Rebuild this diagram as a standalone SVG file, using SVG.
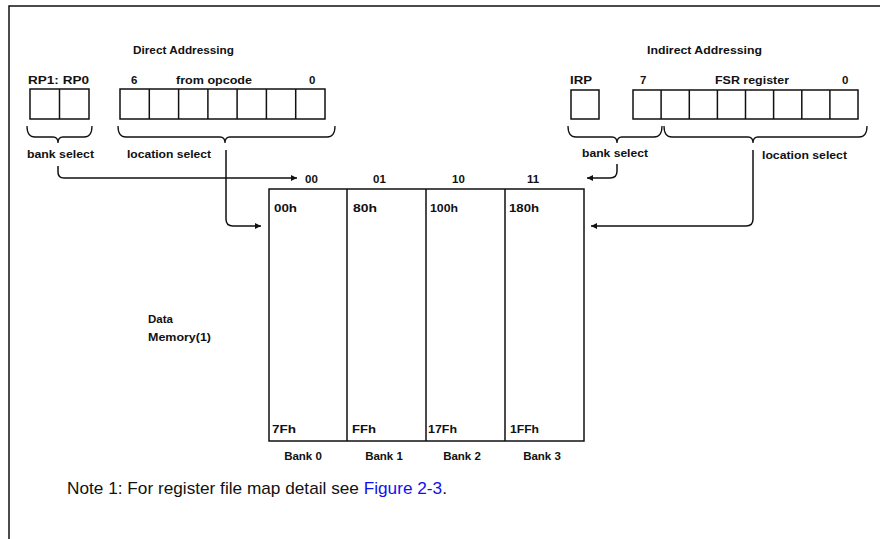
<svg xmlns="http://www.w3.org/2000/svg" width="880" height="539" viewBox="0 0 880 539">
<defs>
<marker id="arr" viewBox="0 0 10 10" refX="10" refY="5" markerWidth="8" markerHeight="6" markerUnits="userSpaceOnUse" orient="auto">
<path d="M0,0 L10,5 L0,10 z" fill="#111"/>
</marker>
</defs>
<style>
.t{font-family:"Liberation Sans",Arial,sans-serif;font-weight:bold;font-size:11.5px;fill:#111}
.n{font-family:"Liberation Sans",Arial,sans-serif;font-size:17px;fill:#111}
.box{fill:#fff;stroke:#111;stroke-width:1.5}
.ln{fill:none;stroke:#111;stroke-width:1.5}
.br{fill:none;stroke:#111;stroke-width:1.3}
.con{fill:none;stroke:#111;stroke-width:1.5;marker-end:url(#arr)}
</style>
<rect width="880" height="539" fill="#fff"/>
<path class="ln" d="M9,545 L9,6 L885,6" stroke-width="1.3"/>

<g id="direct">
<text class="t" x="133" y="54" textLength="101" lengthAdjust="spacingAndGlyphs">Direct Addressing</text>
<text class="t" x="28" y="84" textLength="61" lengthAdjust="spacingAndGlyphs">RP1: RP0</text>
<text class="t" x="131" y="84">6</text>
<text class="t" x="176" y="84" textLength="76" lengthAdjust="spacingAndGlyphs">from opcode</text>
<text class="t" x="309" y="84">0</text>
<rect class="box" x="30" y="89" width="59" height="30"/>
<line class="ln" x1="59.5" y1="89" x2="59.5" y2="119"/>
<rect class="box" x="120" y="89" width="205" height="30"/>
<path class="ln" d="M149.3,89V119M178.6,89V119M207.9,89V119M237.1,89V119M266.4,89V119M295.7,89V119"/>
<path class="br" d="M27,126 Q27,137 35,137 L53,137 Q58,137 58,143 Q58,137 63,137 L84,137 Q92,137 92,126"/>
<path class="br" d="M118,126 Q118,137 126,137 L220,137 Q225,137 225,143 Q225,137 230,137 L327,137 Q335,137 335,126"/>
<text class="t" x="27" y="158" textLength="67" lengthAdjust="spacingAndGlyphs">bank select</text>
<text class="t" x="127" y="158" textLength="84" lengthAdjust="spacingAndGlyphs">location select</text>
</g>

<g id="indirect">
<text class="t" x="647" y="54" textLength="115" lengthAdjust="spacingAndGlyphs">Indirect Addressing</text>
<text class="t" x="570" y="84" textLength="22" lengthAdjust="spacingAndGlyphs">IRP</text>
<text class="t" x="640" y="84">7</text>
<text class="t" x="715" y="84" textLength="74" lengthAdjust="spacingAndGlyphs">FSR register</text>
<text class="t" x="842" y="84">0</text>
<rect class="box" x="571" y="90" width="28" height="29"/>
<rect class="box" x="633" y="90" width="225" height="29"/>
<path class="ln" d="M661.1,90V119M689.3,90V119M717.4,90V119M745.5,90V119M773.6,90V119M801.8,90V119M829.9,90V119"/>
<path class="br" d="M568,126 Q568,137 576,137 L612,137 Q617,137 617,143 Q617,137 622,137 L654,137 Q662,137 662,126"/>
<path class="br" d="M664,126 Q664,137 672,137 L748,137 Q753,137 753,143 Q753,137 758,137 L859,137 Q867,137 867,126"/>
<text class="t" x="582" y="157" textLength="66" lengthAdjust="spacingAndGlyphs">bank select</text>
<text class="t" x="762" y="159" textLength="85" lengthAdjust="spacingAndGlyphs">location select</text>
</g>

<g id="memory">
<rect class="box" x="269" y="189" width="315" height="252"/>
<path class="ln" d="M347,189V441M426,189V441M505,189V441"/>
<text class="t" x="305" y="183">00</text>
<text class="t" x="373" y="183">01</text>
<text class="t" x="452" y="183">10</text>
<text class="t" x="527" y="183">11</text>
<text class="t" x="274" y="212" textLength="23" lengthAdjust="spacingAndGlyphs">00h</text>
<text class="t" x="353" y="212" textLength="24" lengthAdjust="spacingAndGlyphs">80h</text>
<text class="t" x="430" y="212" textLength="28" lengthAdjust="spacingAndGlyphs">100h</text>
<text class="t" x="509" y="212" textLength="30" lengthAdjust="spacingAndGlyphs">180h</text>
<text class="t" x="272" y="433" textLength="24" lengthAdjust="spacingAndGlyphs">7Fh</text>
<text class="t" x="352" y="433" textLength="24" lengthAdjust="spacingAndGlyphs">FFh</text>
<text class="t" x="428" y="433" textLength="29" lengthAdjust="spacingAndGlyphs">17Fh</text>
<text class="t" x="510" y="433" textLength="29" lengthAdjust="spacingAndGlyphs">1FFh</text>
<text class="t" x="303" y="460" text-anchor="middle">Bank 0</text>
<text class="t" x="384" y="460" text-anchor="middle">Bank 1</text>
<text class="t" x="462" y="460" text-anchor="middle">Bank 2</text>
<text class="t" x="542" y="460" text-anchor="middle">Bank 3</text>
<text class="t" x="148" y="323">Data</text>
<text class="t" x="148" y="341" textLength="63" lengthAdjust="spacingAndGlyphs">Memory(1)</text>
</g>

<g id="connectors">
<path class="con" d="M58,166 L58,172 Q58,178 64,178 L297,178"/>
<path class="con" d="M226,150 L226,219 Q226,226 233,226 L261,226"/>
<path class="con" d="M617,164 L617,171 Q617,178 610,178 L587,178"/>
<path class="con" d="M753,150 L753,219 Q753,226 746,226 L591,226"/>
</g>

<g id="note">
<text class="n" x="67" y="494" textLength="380" lengthAdjust="spacingAndGlyphs">Note 1:  For register file map detail see <tspan fill="#1010ee">Figure 2-3</tspan>.</text>
</g>
</svg>
